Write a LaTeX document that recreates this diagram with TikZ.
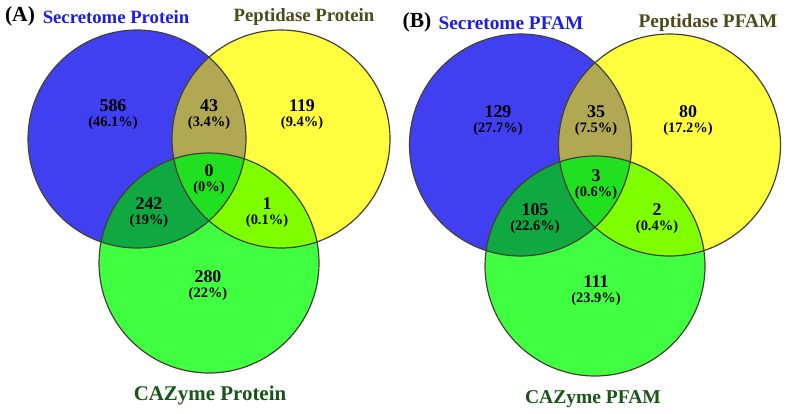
\documentclass[tikz,border=0pt]{standalone}
\usepackage{fontspec}
\setmainfont{Liberation Serif}
\definecolor{blueF}{RGB}{64,64,240}
\definecolor{yelF}{RGB}{255,255,64}
\definecolor{grnF}{RGB}{64,255,64}
\definecolor{byF}{RGB}{176,168,82}
\definecolor{bgF}{RGB}{16,168,64}
\definecolor{ygF}{RGB}{128,255,0}
\definecolor{allF}{RGB}{32,224,32}
\definecolor{tBlue}{RGB}{30,30,225}
\definecolor{tOlive}{RGB}{75,75,25}
\definecolor{tGreen}{RGB}{25,85,25}
\newcommand{\vnum}[2]{{\fontsize{18}{15}\selectfont #1}\\{\fontsize{14.5}{15}\selectfont #2}}
\begin{document}
\begin{tikzpicture}[x=1bp,y=-1bp,
  outline/.style={draw=black!85!yellow,line width=1.2bp},
  val/.style={font=\fontsize{14.5}{15}\selectfont\bfseries,inner sep=0pt,align=center},
  ttl/.style={font=\fontsize{18.8}{19}\selectfont\bfseries,inner sep=0pt},
  panel/.style={font=\fontsize{21.6}{22}\selectfont\bfseries,inner sep=0pt}]
\useasboundingbox[fill=white] (0,0) rectangle (789,413);
% ---------- Panel A ----------
\fill[blueF] (137,139) circle[radius=109bp];
\fill[yelF] (281,139) circle[radius=109bp];
\fill[grnF] (209,263) circle[radius=110bp];
\begin{scope}
  \clip (137,139) circle[radius=109bp];
  \fill[byF] (281,139) circle[radius=109bp];
  \fill[bgF] (209,263) circle[radius=110bp];
\end{scope}
\begin{scope}
  \clip (281,139) circle[radius=109bp];
  \fill[ygF] (209,263) circle[radius=110bp];
  \clip (137,139) circle[radius=109bp];
  \fill[allF] (209,263) circle[radius=110bp];
\end{scope}
\draw[outline] (137,139) circle[radius=109bp];
\draw[outline] (281,139) circle[radius=109bp];
\draw[outline] (209,263) circle[radius=110bp];
\node[panel] (tA) at (20,16) {(A)};
\node[ttl,text=tBlue] (tA1) at (116,17) {Secretome Protein};
\node[ttl,text=tOlive] (tA2) at (304,17) {Peptidase Protein};
\node[ttl,text=tGreen,font=\fontsize{21}{21}\selectfont\bfseries] (tA3) at (210,395) {CAZyme Protein};
\node[val] (a1) at (113,115) {\vnum{586}{(46.1\%)}};
\node[val] (a2) at (209,115) {\vnum{43}{(3.4\%)}};
\node[val] (a3) at (302,115) {\vnum{119}{(9.4\%)}};
\node[val] (a4) at (209,180) {\vnum{0}{(0\%)}};
\node[val] (a5) at (149,213) {\vnum{242}{(19\%)}};
\node[val] (a6) at (267,213) {\vnum{1}{(0.1\%)}};
\node[val] (a7) at (208,286) {\vnum{280}{(22\%)}};
% ---------- Panel B ----------
\fill[blueF] (520.5,145) circle[radius=111bp];
\fill[yelF] (669.5,145) circle[radius=111bp];
\fill[grnF] (595,266) circle[radius=110bp];
\begin{scope}
  \clip (520.5,145) circle[radius=111bp];
  \fill[byF] (669.5,145) circle[radius=111bp];
  \fill[bgF] (595,266) circle[radius=110bp];
\end{scope}
\begin{scope}
  \clip (669.5,145) circle[radius=111bp];
  \fill[ygF] (595,266) circle[radius=110bp];
  \clip (520.5,145) circle[radius=111bp];
  \fill[allF] (595,266) circle[radius=110bp];
\end{scope}
\draw[outline] (520.5,145) circle[radius=111bp];
\draw[outline] (669.5,145) circle[radius=111bp];
\draw[outline] (595,266) circle[radius=110bp];
\node[panel] (tB) at (417,22) {(B)};
\node[ttl,text=tBlue,font=\fontsize{19.4}{19}\selectfont\bfseries] (tB1) at (511,23) {Secretome PFAM};
\node[ttl,text=tOlive,font=\fontsize{19.4}{19}\selectfont\bfseries] (tB2) at (708,23) {Peptidase PFAM};
\node[ttl,text=tGreen,font=\fontsize{19.6}{19}\selectfont\bfseries] (tB3) at (593,399) {CAZyme PFAM};
\node[val] (b1) at (498,121) {\vnum{129}{(27.7\%)}};
\node[val] (b2) at (596,121) {\vnum{35}{(7.5\%)}};
\node[val] (b3) at (688,121) {\vnum{80}{(17.2\%)}};
\node[val] (b4) at (596,185) {\vnum{3}{(0.6\%)}};
\node[val] (b5) at (535,219) {\vnum{105}{(22.6\%)}};
\node[val] (b6) at (657,219) {\vnum{2}{(0.4\%)}};
\node[val] (b7) at (596,291) {\vnum{111}{(23.9\%)}};
\end{tikzpicture}
\end{document}
